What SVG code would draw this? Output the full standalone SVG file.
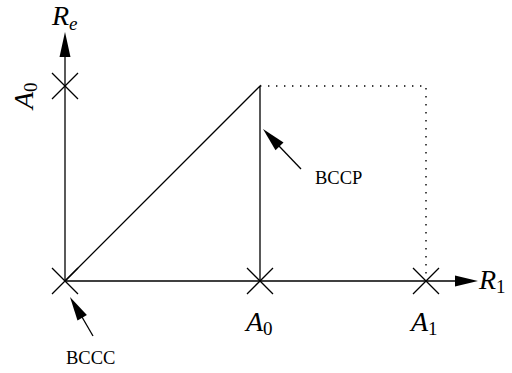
<svg xmlns="http://www.w3.org/2000/svg" width="512" height="373" viewBox="0 0 512 373">
<style>
.ln{stroke:#000;stroke-width:1.3;fill:none}
.dot{stroke:#000;stroke-width:1.4;fill:none;stroke-dasharray:1.4 6.6}
.ah{fill:#000;stroke:none}
text,tspan{font-family:"Liberation Serif","Times New Roman","DejaVu Serif",serif}
.m{font-style:italic;font-size:28px}
.sub{font-style:normal;font-size:19px}
.subi{font-style:italic;font-size:19px}
.lab{font-size:18.5px}
</style>
<defs>
<g id="cross"><path class="ln" d="M-13,-13L13,13M-13,13L13,-13"/></g>
</defs>
<g id="connectors">
<path class="ln" d="M65,281V55"/>
<path class="ah" d="M65,32L70.5,57L59.5,57Z"/>
<path class="ln" d="M65,281H457"/>
<path class="ah" d="M478,281L455,275.5L455,286.5Z"/>
<path class="ln" d="M65,281L260,86V281"/>
<path class="dot" d="M260,86H426V281"/>
<path class="ln" d="M301,169L279,146"/>
<path class="ah" d="M263,129L283.5,142.6L275.5,150.2Z"/>
<path class="ln" d="M93,336L82,317"/>
<path class="ah" d="M70,297L86.9,314.9L77.5,320.5Z"/>
</g>
<g id="marks">
<use href="#cross" x="65" y="86"/>
<use href="#cross" x="65" y="281"/>
<use href="#cross" x="260" y="281"/>
<use href="#cross" x="426" y="281"/>
</g>
<g id="axis-Re"><text class="m" x="52" y="25">R<tspan class="subi" dy="5">e</tspan></text></g>
<g id="axis-R1"><text class="m" x="479" y="289">R<tspan class="sub" dy="4">1</tspan></text></g>
<g id="label-A0-y"><text class="m" transform="translate(33,109) rotate(-90)">A<tspan class="sub" dy="4">0</tspan></text></g>
<g id="label-A0-x"><text class="m" x="246" y="331">A<tspan class="sub" dy="4">0</tspan></text></g>
<g id="label-A1-x"><text class="m" x="411" y="331">A<tspan class="sub" dy="4">1</tspan></text></g>
<g id="BCCP"><text class="lab" x="315" y="184">BCCP</text></g>
<g id="BCCC"><text class="lab" x="66" y="364">BCCC</text></g>
</svg>
